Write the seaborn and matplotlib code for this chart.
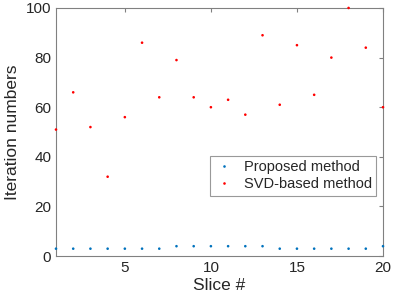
import numpy as np
import pandas as pd
import matplotlib
matplotlib.use("Agg")
import matplotlib.pyplot as plt
import seaborn as sns

# data
slices = list(range(1, 21))
proposed = [3, 3, 3, 3, 3, 3, 3, 4, 4, 4, 4, 4, 4, 3, 3, 3, 3, 3, 3, 4]
svd_based = [51, 66, 52, 32, 56, 86, 64, 79, 64, 60, 63, 57, 89, 61, 85, 65, 80, 100, 84, 60]
method_names = ["Proposed method", "SVD-based method"]

df = pd.DataFrame({
    "slice": slices * 2,
    "iters": proposed + svd_based,
    "method": [method_names[0]] * len(slices) + [method_names[1]] * len(slices),
})

sns.set_style("white")
plt.rcParams['font.family'] = ['Liberation Sans', 'DejaVu Sans']

fig = plt.figure(figsize=(4, 3.06), dpi=100)
ax = fig.add_axes([0.14, 0.163, 0.8175, 0.811])

sns.scatterplot(data=df, x="slice", y="iters", hue="method",
                palette={method_names[0]: "#0072BD", method_names[1]: "#FF0000"},
                s=3.5, linewidth=0, marker="o", ax=ax, clip_on=False, zorder=3)

ax.set_xlim(1, 20)
ax.set_ylim(0, 100)
ax.set_xticks([5, 10, 15, 20])
ax.set_yticks([0, 20, 40, 60, 80, 100])
ax.tick_params(direction="in", length=3, width=0.8, colors="#808080",
               labelcolor="#262626", labelsize=11, top=True, right=True)
for s in ax.spines.values():
    s.set_color("#808080")
    s.set_linewidth(0.8)
ax.set_xlabel("Slice #", fontsize=12.5, color="#262626", labelpad=2)
ax.set_ylabel("Iteration numbers", fontsize=12.5, color="#262626", labelpad=4)

leg = ax.legend(loc="upper left", bbox_to_anchor=(0.45, 0.433), fontsize=10.5,
                frameon=True, fancybox=False, edgecolor="#808080",
                handletextpad=0.8, borderpad=0.3, labelspacing=0.2,
                markerscale=1.0, handlelength=1.2)
leg.get_frame().set_linewidth(0.8)

plt.savefig("out.png", dpi=100)
plt.close(fig)
